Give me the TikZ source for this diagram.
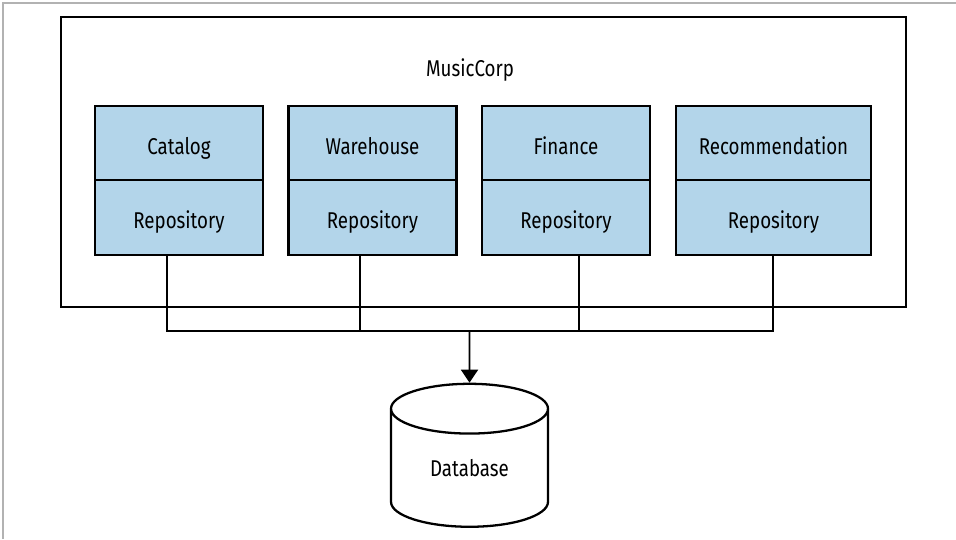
\documentclass[tikz,border=0pt]{standalone}
\usepackage{fontspec}
\setmainfont{Fira Sans}[FakeStretch=0.82]
\usetikzlibrary{shapes.geometric,arrows.meta}
\definecolor{svcblue}{RGB}{179,213,234}
\begin{document}
\begin{tikzpicture}[x=0.02cm, y=-0.02cm,
  lbl/.style={font=\fontsize{13}{15}\selectfont, text height=12pt, text depth=0pt},
  svc/.style={draw, line width=1.3pt, fill=svcblue, rectangle, minimum width=3.36cm,
              minimum height=1.5cm, inner sep=0pt, lbl},
  wire/.style={line width=1.1pt},
  arr/.style={line width=1.1pt, -{Triangle[length=0.26cm, width=0.34cm]}}
]
\useasboundingbox (0,0) rectangle (956,539);
\draw[gray!60, line width=0.7pt] (3,539) |- (956,3);
\node[draw, line width=1.5pt, minimum width=16.9cm, minimum height=5.8cm] (corp) at (483.5,162) {};
\node[lbl] (corplbl) at (470,66) {MusicCorp};
\node[svc] (cat)    at (179,143.5) {Catalog};
\node[svc] (catrepo) at (179,217.5) {Repository};
\node[svc] (wh)     at (372.5,143.5) {Warehouse};
\node[svc] (whrepo)  at (372.5,217.5) {Repository};
\node[svc] (fin)    at (566,143.5) {Finance};
\node[svc] (finrepo) at (566,217.5) {Repository};
\node[svc, minimum width=3.9cm] (rec)    at (773.5,143.5) {Recommendation};
\node[svc, minimum width=3.9cm] (recrepo) at (773.5,217.5) {Repository};
\node[draw, line width=1.3pt, cylinder, shape border rotate=90, aspect=0.55,
      minimum width=3.14cm, minimum height=2.86cm, lbl, text height=4pt] (db) at (469.5,473) {Database};
\coordinate (b1) at (167,331);
\coordinate (b2) at (360,331);
\coordinate (b3) at (579,331);
\coordinate (b4) at (773,331);
\coordinate (bdb) at (469.5,331);
\draw[wire] (catrepo.south -| b1) -- (b1) -- (b4) -- (recrepo.south -| b4);
\draw[wire] (whrepo.south -| b2) -- (b2);
\draw[wire] (finrepo.south -| b3) -- (b3);
\draw[arr] (bdb) -- (db.north);
\end{tikzpicture}
\end{document}
